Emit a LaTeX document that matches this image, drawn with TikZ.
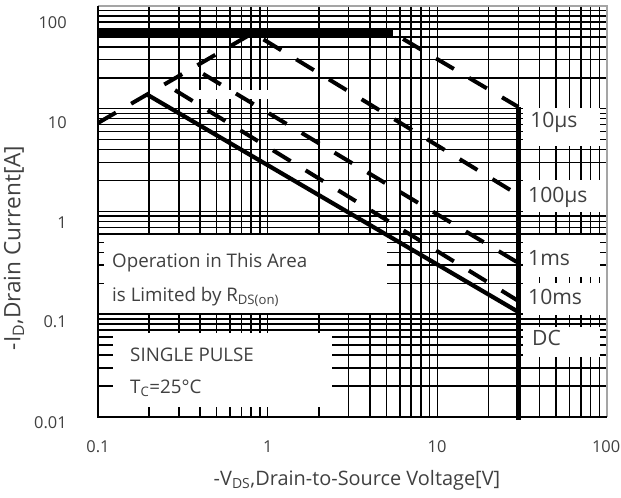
\documentclass[tikz,border=0pt]{standalone}
\usepackage{fontspec}
\setmainfont{Open Sans}
\definecolor{txt}{RGB}{64,64,64}
\definecolor{rim}{RGB}{165,165,165}
\tikzset{
  gridline/.style={line width=1.3pt},
  pulse/.style={line width=3.4pt,dash pattern=on 17.7pt off 15pt},
  whitebox/.style={fill=white},
  boxtext/.style={text=txt,font=\fontsize{16}{19}\selectfont,inner sep=0pt,anchor=west},
  curvetext/.style={boxtext,font=\fontsize{18}{21}\selectfont},
  ticktext/.style={text=txt,font=\fontsize{14}{17}\selectfont,inner sep=0pt},
  titletext/.style={text=txt,font=\fontsize{17}{20}\selectfont,inner sep=0pt},
}

\begin{document}
\begin{tikzpicture}[x=5.091cm,y=3.0825cm]
\useasboundingbox (-0.5775,-0.788) rectangle (3.082,4.058);
% log grid
\foreach \d in {0,1,2}
  \foreach \k in {1,...,9}
    \draw [gridline] ({\d+log10(\k)},0) -- ({\d+log10(\k)},4);
\foreach \d in {0,1,2,3}
  \foreach \k in {1,...,9}
    \draw [gridline] (0,{\d+log10(\k)}) -- (3,{\d+log10(\k)});
% blank areas
\fill [whitebox] (0.589,3.099) rectangle (1.025,3.182);
\fill [whitebox] (0.035,1.012) rectangle (1.703,1.771);
\fill [whitebox] (0.088,0.097) rectangle (1.379,0.818);
\fill [whitebox] (2.504,2.637) rectangle (2.958,3.007);
\fill [whitebox] (2.504,1.995) rectangle (3.000,2.307);
\fill [whitebox] (2.504,1.363) rectangle (2.958,1.771);
\fill [whitebox] (2.504,0.993) rectangle (3.000,1.304);
\fill [whitebox] (2.504,0.584) rectangle (2.958,0.876);
% curve points
\coordinate (r0) at (0,2.861);
\coordinate (r1) at (0.913,3.737);
\coordinate (idm0) at (0,3.737);
\coordinate (idm1) at (1.738,3.737);
\coordinate (e10us) at (2.477,3.017);
\coordinate (e100us) at (2.477,2.161);
\coordinate (s1ms) at (0.560,3.398);
\coordinate (e1ms) at (2.477,1.499);
\coordinate (s10ms) at (0.395,3.240);
\coordinate (e10ms) at (2.477,1.129);
\coordinate (sdc) at (0.289,3.138);
\coordinate (edc) at (2.477,1.022);
\coordinate (vbot) at (2.477,-0.03);
% limits
\draw [pulse] (r0) -- (r1) -- (e100us);
\draw [pulse,dash phase=22.7pt] (idm1) -- (e10us);
\draw [pulse,dash phase=22.7pt] (s1ms) -- (e1ms);
\draw [pulse,dash phase=22.7pt] (s10ms) -- (e10ms);
\draw [line width=3.6pt] (sdc) -- (edc);
\draw [line width=5pt] (idm0) -- (idm1);
\draw [line width=4.4pt] (e10us) -- (vbot);
% frame
\draw [rim,line width=1.3pt] (0,4) -- (3,4) -- (3,0);
\draw [line width=2.4pt] (0,4) -- (0,0) -- (3,0);
% texts
\node (op1) [boxtext] at (0.0825,1.498) {Operation in This Area};
\node (op2) [boxtext] at (0.0825,1.168) {is Limited by R\textsubscript{DS(on)}};
\node (sp) [boxtext] at (0.1886,0.603) {SINGLE PULSE};
\node (tc) [boxtext] at (0.1886,0.282) {T\textsubscript{C}=25°C};
\node (l10us) [curvetext] at (2.546,2.871) {10μs};
\node (l100us) [curvetext] at (2.534,2.141) {100μs};
\node (l1ms) [curvetext] at (2.534,1.547) {1ms};
\node (l10ms) [curvetext] at (2.534,1.168) {10ms};
\node (ldc) [curvetext] at (2.557,0.769) {DC};
% tick labels
\node (y100) [ticktext,anchor=east] at (-0.183,3.834) {100};
\node (y10) [ticktext,anchor=east] at (-0.183,2.861) {10};
\node (y1) [ticktext,anchor=east] at (-0.183,1.888) {1};
\node (y01) [ticktext,anchor=east] at (-0.183,0.925) {0.1};
\node (y001) [ticktext,anchor=east] at (-0.183,-0.058) {0.01};
\node (x01) [ticktext] at (0,-0.292) {0.1};
\node (x1) [ticktext] at (1,-0.292) {1};
\node (x10) [ticktext] at (1.998,-0.292) {10};
\node (x100) [ticktext] at (2.994,-0.292) {100};
% axis titles
\node (xt) [titletext] at (1.526,-0.613) {-V\textsubscript{DS},Drain-to-Source Voltage[V]};
\node (yt) [titletext,font=\fontsize{19.3}{22}\selectfont,rotate=90] at (-0.495,1.645) {-I\textsubscript{D},Drain Current[A]};
\end{tikzpicture}
\end{document}
